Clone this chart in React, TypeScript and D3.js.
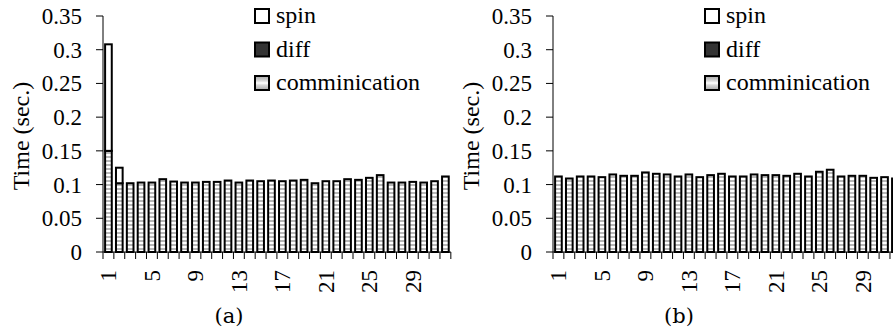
import React from "react";
import * as d3 from "d3";

const categories = ["1","2","3","4","5","6","7","8","9","10","11","12","13","14","15","16","17","18","19","20","21","22","23","24","25","26","27","28","29","30","31","32"];
const xTickLabels = ["1","5","9","13","17","21","25","29"];
const yTicks = [0, 0.05, 0.1, 0.15, 0.2, 0.25, 0.3, 0.35];
const yTickLabels = ["0","0.05","0.1","0.15","0.2","0.25","0.3","0.35"];
const seriesNames = ["spin", "diff", "comminication"];

const commA = [0.150,0.102,0.102,0.103,0.103,0.108,0.1045,0.103,0.103,0.104,0.104,0.106,0.103,0.106,0.105,0.106,0.105,0.106,0.107,0.102,0.105,0.105,0.108,0.107,0.110,0.114,0.103,0.103,0.104,0.103,0.105,0.112];
const diffA = [0,0,0,0,0,0,0,0,0,0,0,0,0,0,0,0,0,0,0,0,0,0,0,0,0,0,0,0,0,0,0,0];
const spinA = [0.158,0.023,0,0,0,0,0,0,0,0,0,0,0,0,0,0,0,0,0,0,0,0,0,0,0,0,0,0,0,0,0,0];

const commB = [0.112,0.109,0.112,0.112,0.111,0.115,0.113,0.113,0.118,0.116,0.115,0.112,0.115,0.111,0.114,0.116,0.112,0.112,0.115,0.114,0.114,0.113,0.116,0.112,0.119,0.122,0.112,0.113,0.113,0.110,0.111,0.109];
const diffB = [0,0,0,0,0,0,0,0,0,0,0,0,0,0,0,0,0,0,0,0,0,0,0,0,0,0,0,0,0,0,0,0];
const spinB = [0,0,0,0,0,0,0,0,0,0,0,0,0,0,0,0,0,0,0,0,0,0,0,0,0,0,0,0,0,0,0,0];

const FONT = "'Liberation Serif', 'Times New Roman', serif";
const LABEL_FONT = "'DejaVu Serif', serif";

type PanelProps = { ox: number; comm: number[]; diff: number[]; spin: number[]; caption: string };

function Panel({ ox, comm, diff, spin, caption }: PanelProps) {
  const x0 = 103;
  const step = 10.87;
  const x = d3.scaleBand<string>().domain(categories).range([x0, x0 + step * categories.length]).padding(0);
  const y = d3.scaleLinear().domain([0, 0.35]).range([252, 16]);
  const bw = x.bandwidth();
  const inset = 2.1;
  const rows = categories.map((c, i) => ({ c, comm: comm[i], diff: diff[i], spin: spin[i] }));
  const stack = d3.stack<any>().keys(["comm", "diff", "spin"])(rows);
  const fills: Record<string, string> = { comm: "url(#stripe)", diff: "#333333", spin: "#ffffff" };
  const legendFills = ["#ffffff", "#333333", "url(#legGrad)"];
  return (
    <g transform={`translate(${ox},0)`}>
      {/* y axis */}
      <line x1={x0} x2={x0} y1={y(0.35)} y2={y(0)} stroke="#000" strokeWidth={1} />
      {yTicks.map((t, i) => (
        <g key={i}>
          <line x1={x0 - 7} x2={x0} y1={y(t)} y2={y(t)} stroke="#000" strokeWidth={1} />
          <text x={82} y={y(t)} dy="0.35em" textAnchor="end" fontFamily={FONT} fontSize={23} fill="#000">{yTickLabels[i]}</text>
        </g>
      ))}
      <text transform={`translate(29,136) rotate(-90)`} textAnchor="middle" fontFamily={FONT} fontSize={24} fill="#000">Time (sec.)</text>
      {/* bars */}
      {stack.map((s) => (
        <g key={s.key}>
          {s.map((d, i) => {
            const h = y(d[0]) - y(d[1]);
            if (h <= 0.01) return null;
            return (
              <rect key={i} x={(x(categories[i]) as number) + inset} width={bw - 2 * inset} y={y(d[1])} height={h}
                fill={fills[s.key as string]} stroke="#000" strokeWidth={2} />
            );
          })}
        </g>
      ))}
      {/* x axis */}
      <line x1={x0} x2={x0 + step * categories.length} y1={y(0)} y2={y(0)} stroke="#000" strokeWidth={1} />
      {categories.map((c, i) => (
        <line key={i} x1={(x(c) as number)} x2={(x(c) as number)} y1={y(0)} y2={y(0) + 7} stroke="#000" strokeWidth={1} />
      ))}
      <line x1={x0 + step * categories.length} x2={x0 + step * categories.length} y1={y(0)} y2={y(0) + 7} stroke="#000" strokeWidth={1} />
      {xTickLabels.map((l) => (
        <text key={l} transform={`translate(${(x(l) as number) + bw / 2},270) rotate(-90)`} dy="0.35em" textAnchor="end"
          fontFamily={FONT} fontSize={23} fill="#000">{l}</text>
      ))}
      {/* legend */}
      {seriesNames.map((n, i) => (
        <g key={n} transform={`translate(255,${9 + i * 33.5})`}>
          <rect x={0} y={0} width={14} height={14} fill={legendFills[i]} stroke="#000" strokeWidth={2} />
          <text x={21} y={14} fontFamily={FONT} fontSize={24} fill="#000">{n}</text>
        </g>
      ))}
      <text x={229} y={323} textAnchor="middle" fontFamily={LABEL_FONT} fontSize={21} fill="#000">{caption}</text>
    </g>
  );
}

export default function App() {
  return (
    <svg width={893} height={332} style={{ position: "absolute", left: 0, top: 0, background: "#fff" }}>
      <defs>
        <pattern id="stripe" patternUnits="userSpaceOnUse" width={4} height={4}>
          <rect x={0} y={0} width={4} height={4} fill="#ffffff" />
          <rect x={0} y={0} width={4} height={2} fill="#b8b8b8" />
        </pattern>
        <linearGradient id="legGrad" x1="0" y1="0" x2="0" y2="1">
          <stop offset="0" stopColor="#a8a8a8" />
          <stop offset="0.35" stopColor="#d8d8d8" />
          <stop offset="0.5" stopColor="#ffffff" />
          <stop offset="0.65" stopColor="#d8d8d8" />
          <stop offset="1" stopColor="#a8a8a8" />
        </linearGradient>
      </defs>
      <rect x={0} y={0} width={893} height={332} fill="#fff" />
      <Panel ox={0} comm={commA} diff={diffA} spin={spinA} caption="(a)" />
      <Panel ox={450} comm={commB} diff={diffB} spin={spinB} caption="(b)" />
    </svg>
  );
}
